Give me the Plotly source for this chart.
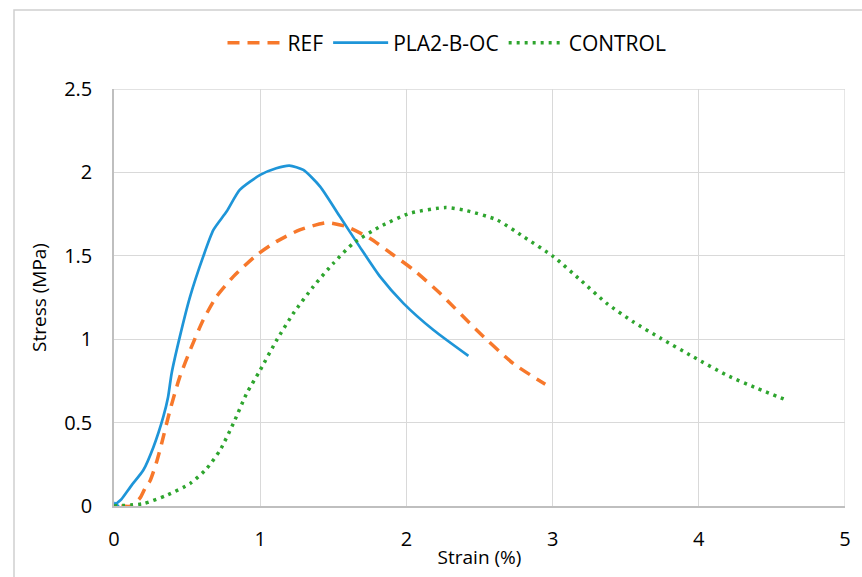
import plotly.graph_objects as go

# REF (orange dashed)
ref_x = [0.05, 0.12, 0.18, 0.22, 0.246, 0.29, 0.326, 0.383, 0.45, 0.53, 0.61, 0.70, 0.816, 0.976, 1.11, 1.27, 1.455, 1.59, 1.75, 1.91, 2.05, 2.23, 2.48, 2.73, 2.95]
ref_y = [0.0, 0.0, 0.05, 0.12, 0.15, 0.26, 0.375, 0.574, 0.774, 0.954, 1.115, 1.254, 1.375, 1.505, 1.585, 1.655, 1.699, 1.675, 1.605, 1.505, 1.415, 1.275, 1.055, 0.855, 0.73]

# PLA2-B-OC (blue solid)
pla_x = [0.0, 0.03, 0.0, 0.05, 0.12, 0.2, 0.27, 0.337, 0.37, 0.394, 0.45, 0.52, 0.61, 0.68, 0.77, 0.86, 1.0, 1.11, 1.20, 1.295, 1.41, 1.545, 1.68, 1.82, 1.98, 2.185, 2.424]
pla_y = [0.02, 0.0, 0.0, 0.04, 0.124, 0.214, 0.354, 0.534, 0.654, 0.795, 1.014, 1.254, 1.495, 1.655, 1.765, 1.895, 1.985, 2.025, 2.041, 2.015, 1.915, 1.735, 1.555, 1.375, 1.215, 1.055, 0.9]

# CONTROL (green dotted)
ctl_x = [0.0, 0.2, 0.36, 0.52, 0.634, 0.725, 0.816, 0.907, 1.0, 1.113, 1.227, 1.363, 1.50, 1.637, 1.82, 2.025, 2.265, 2.41, 2.62, 2.80, 3.006, 3.19, 3.37, 3.55, 3.74, 3.96, 4.19, 4.40, 4.60]
ctl_y = [0.0, 0.014, 0.064, 0.134, 0.224, 0.334, 0.494, 0.674, 0.815, 0.995, 1.155, 1.315, 1.455, 1.575, 1.675, 1.755, 1.789, 1.771, 1.715, 1.615, 1.495, 1.355, 1.215, 1.105, 1.005, 0.895, 0.785, 0.705, 0.635]

x_ticks = [0, 1, 2, 3, 4, 5]
y_ticks = [0, 0.5, 1, 1.5, 2, 2.5]
y_tick_text = ["0", "0.5", "1", "1.5", "2", "2.5"]

FONT = "Open Sans"
fig = go.Figure()
fig.add_trace(go.Scatter(x=ref_x, y=ref_y, mode="lines", name="REF",
                         line=dict(color="#F7782B", width=3.5, dash="12px,8px", shape="spline", smoothing=0.6)))
fig.add_trace(go.Scatter(x=pla_x, y=pla_y, mode="lines", name="PLA2-B-OC",
                         line=dict(color="#1E95D8", width=2.7, shape="spline", smoothing=0.6)))
fig.add_trace(go.Scatter(x=ctl_x, y=ctl_y, mode="lines", name="CONTROL",
                         line=dict(color="#2EA52E", width=3.5, dash="3px,5px", shape="spline", smoothing=0.6)))

L, R, T, B = 114, 17, 89, 71
W, H = 862, 577
pw, ph = W - L - R, H - T - B

fig.update_layout(
    width=W, height=H,
    margin=dict(l=L, r=R, t=T, b=B),
    paper_bgcolor="white", plot_bgcolor="white",
    font=dict(family=FONT, color="#000000", size=19),
    showlegend=True,
    legend=dict(orientation="h", x=(447 - L) / pw, xanchor="center", y=(H - B - 43) / ph, yanchor="middle",
                font=dict(size=21, family=FONT), tracegroupgap=0, itemwidth=55),
    shapes=[dict(type="rect", xref="paper", yref="paper",
                 x0=(14 - L) / pw, x1=(880 - L) / pw,
                 y0=(H - B - 600) / ph, y1=(H - B - 10) / ph,
                 line=dict(color="#D0D0D0", width=1.5), layer="below")],
)
fig.update_xaxes(range=[0, 5], tickvals=x_ticks, ticktext=[str(v) for v in x_ticks],
                 showgrid=True, gridcolor="#D9D9D9", gridwidth=1.3,
                 showline=True, linecolor="#BFBFBF", linewidth=1.5,
                 zeroline=False, ticks="", ticklabelstandoff=14,
                 tickfont=dict(size=20, family=FONT),
                 title=dict(text="Strain (%)", font=dict(size=19, family=FONT), standoff=0))
fig.update_yaxes(range=[0, 2.5], tickvals=y_ticks, ticktext=y_tick_text,
                 showgrid=True, gridcolor="#D9D9D9", gridwidth=1.3,
                 showline=True, linecolor="#BFBFBF", linewidth=1.5,
                 zeroline=False, ticks="", ticklabelstandoff=16,
                 tickfont=dict(size=20, family=FONT),
                 title=dict(text="Stress (MPa)", font=dict(size=19, family=FONT), standoff=12))
fig.add_shape(type="line", xref="x", yref="y", x0=5, x1=5, y0=0, y1=2.5,
              line=dict(color="#D9D9D9", width=1.3), layer="below")
fig.add_shape(type="line", xref="x", yref="y", x0=0, x1=5, y0=2.5, y1=2.5,
              line=dict(color="#D9D9D9", width=1.3), layer="below")

fig.write_html("out.html")
